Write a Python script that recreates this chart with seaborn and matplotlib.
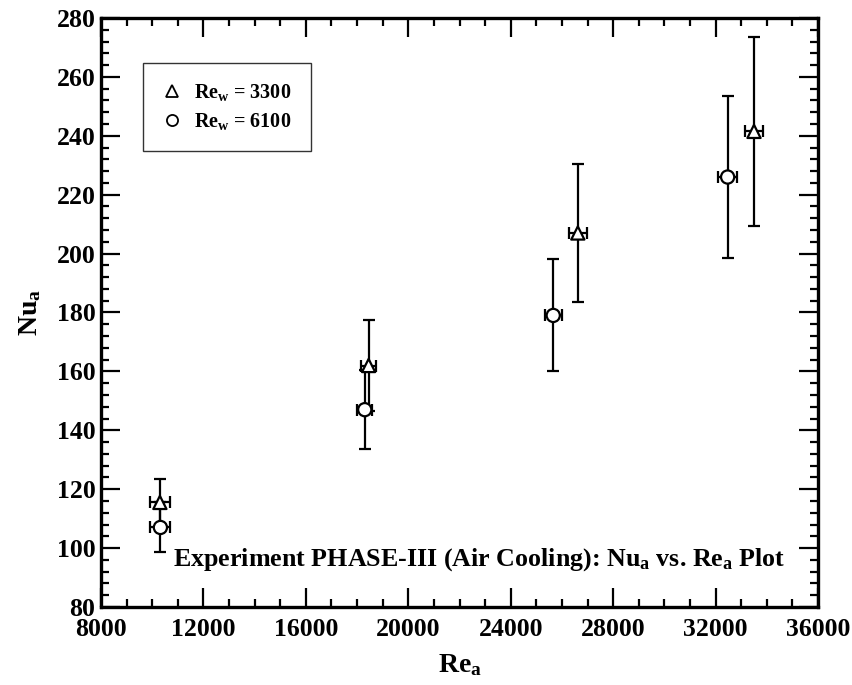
import matplotlib
matplotlib.use("Agg")
import matplotlib.pyplot as plt
import seaborn as sns
import pandas as pd
from matplotlib.ticker import MultipleLocator
from matplotlib.lines import Line2D

# ---- data ----
re_3300 = [10300, 18450, 26620, 33500]
nu_3300 = [115.5, 162.0, 207.0, 241.5]
nu_err_3300 = [8.0, 15.5, 23.5, 32.0]
re_err_3300 = [400, 300, 340, 370]

re_6100 = [10320, 18300, 25660, 32470]
nu_6100 = [107.0, 147.0, 179.0, 226.0]
nu_err_6100 = [8.5, 13.5, 19.0, 27.5]
re_err_6100 = [390, 300, 325, 370]

series_labels = [r"$\mathrm{Re_w}$ = 3300", r"$\mathrm{Re_w}$ = 6100"]

sns.set_theme(style="ticks")
plt.rcParams["font.family"] = ["Liberation Serif", "DejaVu Serif"]
plt.rcParams["font.weight"] = "bold"
plt.rcParams["text.color"] = "black"
plt.rcParams["axes.labelcolor"] = "black"
plt.rcParams["xtick.color"] = "black"
plt.rcParams["ytick.color"] = "black"
plt.rcParams["mathtext.fontset"] = "custom"
plt.rcParams["mathtext.rm"] = "Liberation Serif:bold"
plt.rcParams["mathtext.it"] = "Liberation Serif:bold"
plt.rcParams["mathtext.bf"] = "Liberation Serif:bold"

df = pd.DataFrame({
    "Re": re_3300 + re_6100,
    "Nu": nu_3300 + nu_6100,
    "series": [series_labels[0]] * len(re_3300) + [series_labels[1]] * len(re_6100),
})

fig = plt.figure(figsize=(8.53, 6.85), dpi=100)
ax = fig.add_axes([0.1184, 0.1139, 0.8406, 0.8598])

err_kw = dict(fmt="none", ecolor="black", elinewidth=1.6, capsize=4.5, capthick=1.6, zorder=2)
ax.errorbar(re_3300, nu_3300, yerr=nu_err_3300, xerr=re_err_3300, **err_kw)
ax.errorbar(re_6100, nu_6100, yerr=nu_err_6100, xerr=re_err_6100, **err_kw)

sns.scatterplot(data=df, x="Re", y="Nu", style="series",
                markers={series_labels[0]: "^", series_labels[1]: "o"},
                color="white", edgecolor="black", linewidth=1.6, s=90,
                zorder=3, ax=ax, legend=False)

handles = [
    Line2D([], [], linestyle="none", marker="^", markersize=8, markerfacecolor="white",
           markeredgecolor="black", markeredgewidth=1.3),
    Line2D([], [], linestyle="none", marker="o", markersize=8, markerfacecolor="white",
           markeredgecolor="black", markeredgewidth=1.3),
]
leg = ax.legend(handles, series_labels, loc="upper left", bbox_to_anchor=(0.0586, 0.9236),
                fontsize=14.5, frameon=True, fancybox=False, edgecolor="black",
                borderpad=0.95, handlelength=1.0, handletextpad=0.6, labelspacing=0.4,
                borderaxespad=0)
leg.get_frame().set_linewidth(1.0)
for t in leg.get_texts():
    t.set_color("black")

ax.set_xlim(8000, 36000)
ax.set_ylim(80, 280)
ax.xaxis.set_major_locator(MultipleLocator(4000))
ax.xaxis.set_minor_locator(MultipleLocator(1000))
ax.yaxis.set_major_locator(MultipleLocator(20))
ax.yaxis.set_minor_locator(MultipleLocator(4))
ax.tick_params(which="both", direction="in", top=True, right=True, width=1.6, colors="black")
ax.tick_params(which="major", length=14, labelsize=18.5)
ax.tick_params(axis="x", which="major", pad=8)
ax.tick_params(axis="y", which="major", pad=4)
ax.tick_params(which="minor", length=6)
for lab in ax.get_xticklabels() + ax.get_yticklabels():
    lab.set_fontweight("bold")
for sp in ax.spines.values():
    sp.set_linewidth(2.4)
    sp.set_color("black")

ax.set_xlabel(r"$\mathrm{Re_a}$", fontsize=20, labelpad=8, color="black")
ax.set_ylabel(r"$\mathrm{Nu_a}$", fontsize=20, labelpad=10, color="black")

ax.text(0.954, 0.08, r"Experiment PHASE-III (Air Cooling): $\mathrm{Nu_a}$ vs. $\mathrm{Re_a}$ Plot",
        transform=ax.transAxes, ha="right", va="center", fontsize=18.7, fontweight="bold",
        color="black")

fig.savefig("out.png", dpi=100, facecolor="white")
